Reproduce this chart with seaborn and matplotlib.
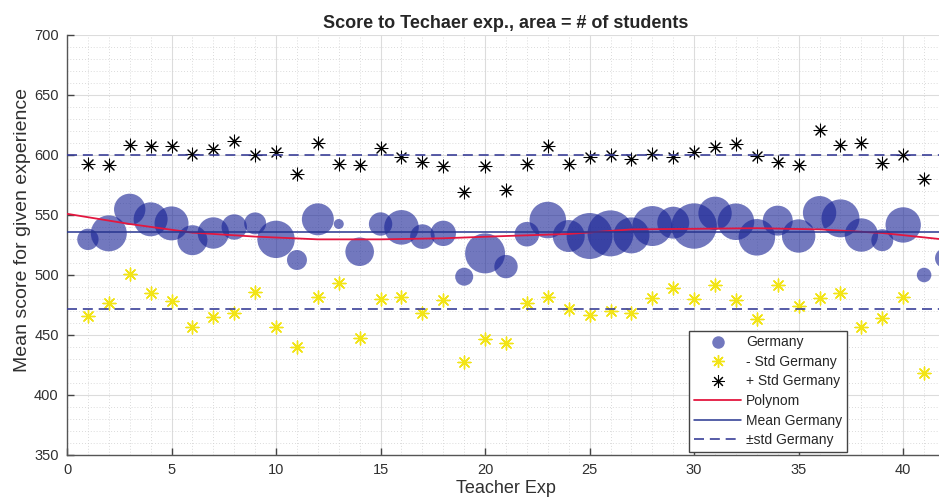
import numpy as np
import pandas as pd
import matplotlib
matplotlib.use("Agg")
import matplotlib.pyplot as plt
from matplotlib.lines import Line2D
from matplotlib.ticker import MultipleLocator
import seaborn as sns

# Mean score per year of teacher experience (Germany), bubble area = number of students
teacher_exp = list(range(1, 43))
mean_score = [529.7, 534.7, 554.7, 546.4, 543.0, 529.0, 535.0, 540.0, 543.0, 529.7,
              512.5, 546.4, 542.5, 519.4, 542.5, 539.7, 532.0, 534.7, 498.6, 518.0,
              507.0, 534.0, 545.8, 532.5, 532.5, 534.7, 533.0, 540.8, 543.6, 540.8,
              551.4, 544.4, 531.4, 545.3, 532.5, 551.9, 547.2, 533.3, 529.0, 541.7,
              500.0, 514.0]
n_students = [237, 671, 510, 598, 598, 466, 510, 334, 250, 724,
              207, 530, 52, 423, 283, 620, 313, 334, 168, 828,
              283, 313, 693, 530, 1095, 1095, 671, 828, 530, 1067,
              577, 693, 693, 466, 577, 577, 747, 577, 250, 648,
              110, 207]

# Mean minus / plus one standard deviation for each experience year
std_exp = list(range(1, 42))
minus_std = [466.1, 476.9, 500.6, 485.3, 478.3, 456.9, 465.3, 468.0, 486.1, 456.4,
             440.3, 481.9, 493.0, 447.2, 480.0, 481.9, 468.6, 479.2, 427.2, 446.4,
             443.1, 476.4, 481.9, 471.7, 466.4, 470.3, 468.0, 480.6, 489.0, 479.7,
             491.7, 479.2, 463.1, 491.7, 474.2, 481.1, 484.7, 456.4, 463.9, 481.9,
             418.6]
plus_std = [592.5, 591.7, 608.3, 607.5, 607.5, 600.6, 604.7, 611.7, 600.0, 602.8,
            584.2, 610.3, 592.5, 591.7, 605.6, 598.0, 594.4, 591.1, 568.9, 591.1,
            570.8, 592.2, 607.8, 592.5, 598.6, 600.0, 596.4, 600.6, 598.6, 602.8,
            607.0, 608.9, 599.2, 594.4, 591.7, 620.8, 608.3, 609.7, 593.6, 600.0,
            579.7]

# Polynomial trend of the scores
poly_exp = [0, 3, 6, 9, 12, 15, 18, 21, 24, 27, 30, 33, 36, 39, 42]
poly_score = [551.0, 542.5, 535.3, 532.0, 529.7, 529.7, 530.6, 532.5, 534.2, 538.0,
              538.5, 539.0, 538.0, 535.0, 529.5]

mean_germany = 536.0
std_germany = 64.0

bubbles = pd.DataFrame({"exp": teacher_exp, "score": mean_score, "students": n_students})
stds = pd.DataFrame({"exp": std_exp, "minus": minus_std, "plus": plus_std})
poly = pd.DataFrame({"exp": poly_exp, "score": poly_score})

sns.set_style("white")
plt.rcParams["font.family"] = ["Liberation Sans", "DejaVu Sans"]

fig = plt.figure(figsize=(9.39, 5.03), dpi=100)
ax = fig.add_axes([67 / 939, 48 / 503, 878 / 939, 420 / 503])

bubble_color = (0.08, 0.12, 0.58)
star_marker = (8, 2, 0)
yellow = "#f2e416"
red = "#e3173f"
navy = "#27358f"
dash_color = "#3a3f98"

smin, smax = min(n_students), max(n_students)
sns.scatterplot(data=bubbles, x="exp", y="score", size="students",
                sizes=(smin, smax), size_norm=(smin, smax),
                color=bubble_color, alpha=0.6, linewidth=0, legend=False,
                ax=ax, zorder=3)
sns.scatterplot(data=stds, x="exp", y="minus", marker=star_marker, s=85,
                color=yellow, linewidth=1.0, legend=False, ax=ax, zorder=4)
sns.scatterplot(data=stds, x="exp", y="plus", marker=star_marker, s=85,
                color="black", linewidth=0.75, legend=False, ax=ax, zorder=4)
sns.lineplot(data=poly, x="exp", y="score", color=red, linewidth=1.3,
             ax=ax, zorder=5)
ax.axhline(mean_germany, color=navy, linewidth=1.1, zorder=5)
for level in (mean_germany - std_germany, mean_germany + std_germany):
    ax.axhline(level, color=dash_color, linewidth=1.2,
               linestyle=(0, (6, 3.5)), zorder=5)

ax.set_xlim(0, 42)
ax.set_ylim(350, 700)
ax.set_xticks(np.arange(0, 41, 5))
ax.set_yticks(np.arange(350, 701, 50))
ax.xaxis.set_minor_locator(MultipleLocator(1))
ax.yaxis.set_minor_locator(MultipleLocator(10))
ax.grid(which="major", color="#dcdcdc", linewidth=0.8, linestyle="-")
ax.grid(which="minor", color="#cfcfcf", linewidth=0.6, linestyle=(0, (1, 2.5)))
ax.set_axisbelow(True)

ax.tick_params(which="major", direction="in", length=5, width=1,
               color="#444444", labelcolor="#303030", labelsize=10.5,
               left=True, bottom=True, top=False, right=False, pad=6)
ax.tick_params(which="minor", length=0)
for side in ("top", "right"):
    ax.spines[side].set_visible(False)
for side in ("left", "bottom"):
    ax.spines[side].set_color("#555555")
    ax.spines[side].set_linewidth(1.0)

ax.set_title("Score to Techaer exp., area = # of students",
             fontsize=13, fontweight="bold", pad=5)
ax.set_xlabel("Teacher Exp", fontsize=13, color="#303030", labelpad=2)
ax.set_ylabel("Mean score for given experience", fontsize=14, color="#303030",
              labelpad=3)
ax.yaxis.set_label_coords(-0.041, 0.535)

handles = [
    Line2D([], [], linestyle="none", marker="o", markersize=9,
           markerfacecolor=(0.08, 0.12, 0.58, 0.6), markeredgewidth=0),
    Line2D([], [], linestyle="none", marker=star_marker, markersize=9,
           color=yellow, markeredgewidth=1.0),
    Line2D([], [], linestyle="none", marker=star_marker, markersize=9,
           color="black", markeredgewidth=0.75),
    Line2D([], [], color=red, linewidth=1.3),
    Line2D([], [], color=navy, linewidth=1.1),
    Line2D([], [], color=dash_color, linewidth=1.2, linestyle=(0, (6, 3.5))),
]
labels = ["Germany", "- Std Germany", "+ Std Germany", "Polynom",
          "Mean Germany", "\u00b1std Germany"]
leg = ax.legend(handles, labels, loc="lower right",
                bbox_to_anchor=((847 - 67) / 878, 3 / 420),
                fontsize=10, frameon=True, fancybox=False, framealpha=1,
                edgecolor="#444444", handlelength=3.4, handletextpad=0.35,
                labelspacing=0.4, borderpad=0.35, borderaxespad=0)
leg.get_frame().set_linewidth(1.0)
leg.set_zorder(10)

fig.savefig("out.png", dpi=100)
